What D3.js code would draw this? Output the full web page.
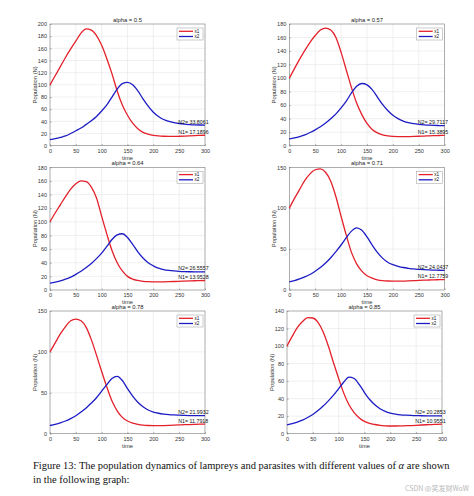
<!DOCTYPE html>
<html><head><meta charset="utf-8">
<script src="https://cdn.jsdelivr.net/npm/d3@7"></script>
<style>body{margin:0;background:#fff}svg{display:block}</style>
</head><body>
<svg id="c" width="474" height="496"></svg>
<script>
const times = [0,10,20,30,40,50,60,70,80,90,100,110,120,130,140,150,160,170,180,190,200,210,220,230,240,250,260,270,280,290,300];
const alphas = ["0.5","0.57","0.64","0.71","0.78","0.85"];
const yMaxes = [200,180,180,150,150,140];
const yTickSteps = [20,20,20,50,50,20];
const xTicks = [0,50,100,150,200,250,300];
const seriesNames = ["x1","x2"];
const n1Labels = ["17.1896","15.3895","13.9528","12.7759","11.7918","10.9551"];
const n2Labels = ["33.8061","29.7117","26.5557","24.0437","21.9932","20.2853"];
const n1Values = [17.1896,15.3895,13.9528,12.7759,11.7918,10.9551];
const n2Values = [33.8061,29.7117,26.5557,24.0437,21.9932,20.2853];

const x1_a050 = [100,115,130,145,159,172,185,192,190,181,165,143,118,90,67,50,37,28,22,19,17,16,15.5,15.3,15.3,15.5,15.8,16.2,16.6,16.9,17.19];
const x2_a050 = [10,11.5,13.5,16,20,24.5,29,35,41,48,57,67,80,93,102,104,100,90,77,65,55,48,43,40,38,36.5,35.5,34.8,34.3,34,33.8];
const x1_a057 = [100,114,128,141,153,163,171,174,171,160,138,112,86,63,46,33,24,19,16,14.5,13.8,13.5,13.4,13.5,13.7,14,14.3,14.6,14.9,15.1,15.39];
const x2_a057 = [10,11.5,13.5,16,19.5,23.5,28,33.5,40,47,56,66,78,88,92,90,83,72,61,52,45,40,36.5,34,32.5,31.5,30.8,30.3,30,29.8,29.71];
const x1_a064 = [100,113,125,137,148,156,160,159,151,135,108,82,58,40,28,20,16,14,12.8,12.2,12,11.9,12,12.2,12.5,12.8,13.1,13.4,13.6,13.8,13.95];
const x2_a064 = [10,11.5,13.5,16,19,23,27.5,33,39,46,54,64,74,81,82.5,77,67,56,47,40,35.5,32,30,28.8,28,27.4,27,26.8,26.7,26.6,26.56];
const x1_a071 = [100,112,123,134,142,147,148,144,133,114,90,67,46,32,23,17.5,14.5,12.5,11.5,11,10.8,10.8,10.9,11.1,11.4,11.7,12,12.2,12.4,12.6,12.78];
const x2_a071 = [10,11.5,13.5,16,19,23,27.5,33,39.5,47,55,64,72,76,73,65,55,46,39,34,31,29,27.5,26.5,25.7,25.2,24.8,24.5,24.3,24.15,24.04];
const x1_a078 = [100,111,122,131,138,140,138,130,115,96,76,57,40,28,20,15.5,13,11.5,10.5,10,9.8,9.8,9.9,10.1,10.4,10.7,11,11.2,11.4,11.6,11.79];
const x2_a078 = [10,11.5,13.3,15.5,18.5,22,26.5,31.5,37.5,44,52,60,67.5,70,65,55,46,38.5,33,29,26.5,25,24,23.3,22.9,22.6,22.4,22.2,22.1,22.05,21.99];
const x1_a085 = [100,111,121,128,132.5,132,127,116,100,81,63,46,33,24,18,14,11.8,10.5,9.5,9,8.8,8.8,8.9,9.1,9.3,9.6,9.9,10.2,10.4,10.7,10.96];
const x2_a085 = [10,11.5,13.3,15.5,18.5,22,26.5,31.5,37.5,44,51.5,59,64.5,63,56,47,39,33,28.5,25.5,23.5,22.3,21.5,21.1,20.8,20.6,20.5,20.4,20.35,20.3,20.29];
const x1All = [x1_a050,x1_a057,x1_a064,x1_a071,x1_a078,x1_a085];
const x2All = [x2_a050,x2_a057,x2_a064,x2_a071,x2_a078,x2_a085];

const captionLine1 = ["Figure 13: The population dynamics of lampreys and parasites with different values of ", "α", " are shown"];
const captionLine2 = "in the following graph:";
const watermark = "CSDN @笑发财WoW";

// layout
const panels = [
  {l:50,   r:205,   t:24,    b:145.7, yl:35},
  {l:289.3,r:444.7, t:24,    b:145.7, yl:274.3},
  {l:50,   r:205,   t:167.3, b:290,   yl:35},
  {l:289.3,r:444.7, t:167.3, b:290,   yl:274.3},
  {l:50,   r:205,   t:311,   b:433.7, yl:35},
  {l:287,  r:442,   t:311,   b:433.7, yl:272}
];
const colors = ["#e4202a","#1c1cc4"];
const svg = d3.select("#c");
const font = "'Liberation Sans', Arial, sans-serif";

panels.forEach((p,i)=>{
  const x = d3.scaleLinear().domain([0,300]).range([p.l,p.r]);
  const y = d3.scaleLinear().domain([0,yMaxes[i]]).range([p.b,p.t]);
  const yTicks = d3.range(0, yMaxes[i]+0.001, yTickSteps[i]);
  const g = svg.append("g");
  // grid
  g.append("g").selectAll("line").data(xTicks.slice(1,-1)).join("line")
    .attr("x1",d=>x(d)).attr("x2",d=>x(d)).attr("y1",p.t).attr("y2",p.b)
    .attr("stroke","#e6e6e6").attr("stroke-width",0.6);
  g.append("g").selectAll("line").data(yTicks.slice(1,-1)).join("line")
    .attr("y1",d=>y(d)).attr("y2",d=>y(d)).attr("x1",p.l).attr("x2",p.r)
    .attr("stroke","#e6e6e6").attr("stroke-width",0.6);
  // axes
  const xa = g.append("g").attr("transform",`translate(0,${p.b})`)
    .call(d3.axisBottom(x).tickValues(xTicks).tickSizeInner(-1.5).tickSizeOuter(0).tickPadding(3));
  const ya = g.append("g").attr("transform",`translate(${p.l},0)`)
    .call(d3.axisLeft(y).tickValues(yTicks).tickSizeInner(-1.5).tickSizeOuter(0).tickPadding(3));
  [xa,ya].forEach(a=>{
    a.select(".domain").remove();
    a.selectAll("line").attr("stroke","#555").attr("stroke-width",0.5);
    a.selectAll("text").attr("font-family",font).attr("font-size",5.5).attr("fill","#333");
  });
  g.append("rect").attr("x",p.l).attr("y",p.t).attr("width",p.r-p.l).attr("height",p.b-p.t)
    .attr("fill","none").attr("stroke","#777").attr("stroke-width",0.6);
  // lines
  const line = d3.line().x((d,k)=>x(times[k])).y(d=>y(d)).curve(d3.curveMonotoneX);
  [x1All[i],x2All[i]].forEach((s,k)=>{
    g.append("path").datum(s).attr("d",line).attr("fill","none")
      .attr("stroke",colors[k]).attr("stroke-width",1.3);
  });
  // title & labels
  g.append("text").attr("x",(p.l+p.r)/2).attr("y",p.t-2.5).attr("text-anchor","middle")
    .attr("font-family",font).attr("font-size",5.8).attr("fill","#222").text("alpha = "+alphas[i]);
  g.append("text").attr("x",(p.l+p.r)/2).attr("y",p.b+14).attr("text-anchor","middle")
    .attr("font-family",font).attr("font-size",5.8).attr("fill","#333").text("time");
  g.append("text").attr("transform",`translate(${p.yl},${(p.t+p.b)/2}) rotate(-90)`).attr("text-anchor","middle")
    .attr("dy","0.35em").attr("font-family",font).attr("font-size",5.8).attr("fill","#333").text("Population (N)");
  // annotations
  g.append("text").attr("x",x(248)).attr("y",y(n2Values[i])-1.5)
    .attr("font-family",font).attr("font-size",5.3).attr("fill","#111").text("N2= "+n2Labels[i]);
  g.append("text").attr("x",x(248)).attr("y",y(n1Values[i])-1.5)
    .attr("font-family",font).attr("font-size",5.3).attr("fill","#111").text("N1= "+n1Labels[i]);
  // legend
  const lw = 26, lh = 12, lx = p.r-2-lw, ly = p.t+4;
  const lg = g.append("g");
  lg.append("rect").attr("x",lx).attr("y",ly).attr("width",lw).attr("height",lh)
    .attr("fill","#fff").attr("stroke","#999").attr("stroke-width",0.5);
  seriesNames.forEach((nm,k)=>{
    const yy = ly+3.3+k*5.2;
    lg.append("line").attr("x1",lx+2).attr("x2",lx+16).attr("y1",yy).attr("y2",yy)
      .attr("stroke",colors[k]).attr("stroke-width",1.3);
    lg.append("text").attr("x",lx+17.5).attr("y",yy).attr("dy","0.35em")
      .attr("font-family",font).attr("font-size",4.6).attr("fill","#111").text(nm);
  });
});

// caption
const serif = "'Liberation Serif', 'Times New Roman', serif";
const cap1 = svg.append("text").attr("x",33).attr("y",469).attr("font-family",serif).attr("font-size",10.5).attr("fill","#111");
captionLine1.forEach((s,k)=>{
  const ts = cap1.append("tspan").text(s);
  if(k===1) ts.attr("font-style","italic");
});
const w = cap1.node().getComputedTextLength();
const fs = 10.5*417/w;
cap1.attr("font-size",fs);
svg.append("text").attr("x",33).attr("y",483).attr("font-family",serif).attr("font-size",fs).attr("fill","#111").text(captionLine2);
svg.append("text").attr("x",469).attr("y",490.5).attr("text-anchor","end")
  .attr("font-family","'Noto Sans CJK SC', sans-serif").attr("font-size",7).attr("fill","#b8b8b8").text(watermark);
</script>
</body></html>
